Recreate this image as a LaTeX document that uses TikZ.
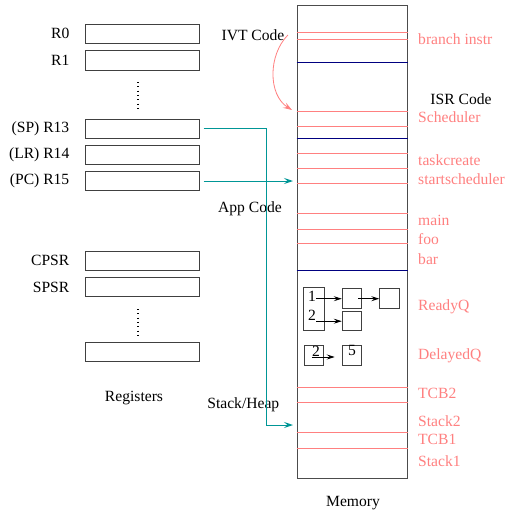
\documentclass[tikz,border=0pt]{standalone}
\usepackage{fontspec}
\setmainfont{Liberation Serif}
\usetikzlibrary{arrows.meta,positioning}
\definecolor{memred}{RGB}{255,128,128}
\definecolor{memnavy}{RGB}{0,0,128}
\definecolor{ptrteal}{RGB}{0,150,150}

\begin{document}
\begin{tikzpicture}[
    x=1pt, y=-1pt,
    font=\fontsize{15.6}{18}\selectfont,
    reg/.style={draw=black!75, line width=1pt, minimum width=114pt,
      minimum height=19pt, inner sep=0pt},
    reglabel/.style={inner sep=0pt},
    regdots/.style={line width=1.2pt, dash pattern=on 1pt off 3.3pt},
    membox/.style={draw=black!70, line width=1pt, minimum width=110pt,
      minimum height=473pt, inner sep=0pt},
    region/.style={draw=memred, line width=1pt},
    border/.style={draw=memnavy, line width=0.8pt},
    memlabel/.style={text=memred, anchor=west, inner sep=0pt},
    qbox/.style={draw=black!75, line width=1pt, minimum width=19.5pt,
      minimum height=19.5pt, inner sep=0pt},
    qnum/.style={inner sep=0pt},
    ptr/.style={draw=ptrteal, line width=1pt,
      -{Stealth[length=9pt,width=6pt,inset=3.5pt]}},
    jump/.style={draw=memred, line width=0.8pt,
      -{Stealth[length=9pt,width=6pt,inset=3.5pt]}},
    qarrow/.style={draw=black, line width=0.8pt,
      -{Stealth[length=8pt,width=5pt,inset=3pt]}}
  ]
  \useasboundingbox (0,0) rectangle (510,511);

  % registers
  \node[reg] (r0) at (142,33.8) {};
  \node[reg] (r1) at (142,60.5) {};
  \node[reg] (r13) at (142,128.5) {};
  \node[reg] (r14) at (142,154.5) {};
  \node[reg] (r15) at (142,181) {};
  \node[reg] (cpsr) at (142,260.5) {};
  \node[reg] (spsr) at (142,287) {};
  \node[reg] (rx) at (142,351.5) {};
  \node[reglabel, left=15pt of r0] (r0lab) {R0};
  \node[reglabel, left=15pt of r1] (r1lab) {R1};
  \node[reglabel, left=15pt of r13] (r13lab) {(SP) R13};
  \node[reglabel, left=15pt of r14] (r14lab) {(LR) R14};
  \node[reglabel, left=15pt of r15] (r15lab) {(PC) R15};
  \node[reglabel, left=15pt of cpsr] (cpsrlab) {CPSR};
  \node[reglabel, left=15pt of spsr] (spsrlab) {SPSR};
  \draw[regdots] (138,82) -- (138,109);
  \draw[regdots] (138,309) -- (138,336);
  \node (registers) at (134,398) {Registers};

  % memory
  \node[membox] (mem) at (352,241.7) {};
  \foreach \y in {32.3,39.3,111.5,126.5,153,168.3,183.3,213.3,229,243.7,
      387.3,402.3,432.7,448.3}
    \draw[region] (mem.west |- 0,\y) -- (mem.east |- 0,\y);
  \foreach \y in {62.3,138,270}
    \draw[border] (mem.west |- 0,\y) -- (mem.east |- 0,\y);
  \foreach \y/\t [count=\i] in {39/branch instr, 117/Scheduler,
      160/taskcreate, 179/startscheduler, 220.7/main, 239.3/foo, 259/bar,
      306.7/ReadyQ, 355.7/DelayedQ, 393.3/TCB2, 421/Stack2, 439/TCB1,
      461/Stack1}
    \node[memlabel] (sec\i) at (418,\y) {\t};
  \node (memory) at (353,503) {Memory};
  \node (ivt) at (253,35) {IVT Code};
  \node (isr) at (461,99) {ISR Code};
  \node (app) at (250,209) {App Code};
  \node (heap) at (243.3,405) {Stack/Heap};

  % queues
  \node[qbox, minimum width=20.7pt, minimum height=43pt] (rdy) at (313.7,309.2) {};
  \node[qnum] (n1) at (312,296) {1};
  \node[qnum] (n2) at (312,315) {2};
  \node[qbox] (rq1) at (352,298.7) {};
  \node[qbox] (rq2) at (389.5,298.7) {};
  \node[qbox] (rq3) at (352,321.2) {};
  \node[qbox] (dly) at (314,355.3) {};
  \node[qnum] (d2) at (316,351) {2};
  \node[qbox] (dq5) at (352,355.3) {};
  \node[qnum] (d5) at (352,350.5) {5};
  \draw[qarrow] (n1.east |- rq1) -- (rq1.west);
  \draw[qarrow] ([xshift=-4pt]rq1.east) -- (rq2.west);
  \draw[qarrow] (n2.east |- rq3) -- (rq3.west);
  \draw[qarrow, shorten >=7pt] (d2.south west |- 0,357) -- (dq5.west |- 0,357);

  % pointers
  \coordinate (codetgt) at (293,181);
  \coordinate (stackbend) at (266.7,425);
  \coordinate (stacktgt) at (293,425);
  \coordinate (schedtgt) at (292,110);
  \draw[ptr] ([xshift=4pt]r15.east) -- (codetgt);
  \draw[ptr] ([xshift=4pt]r13.east) -| (stackbend) -- (stacktgt);
  \draw[jump] (ivt.east) .. controls (268,55) and (268,95) .. (schedtgt);
\end{tikzpicture}
\end{document}
